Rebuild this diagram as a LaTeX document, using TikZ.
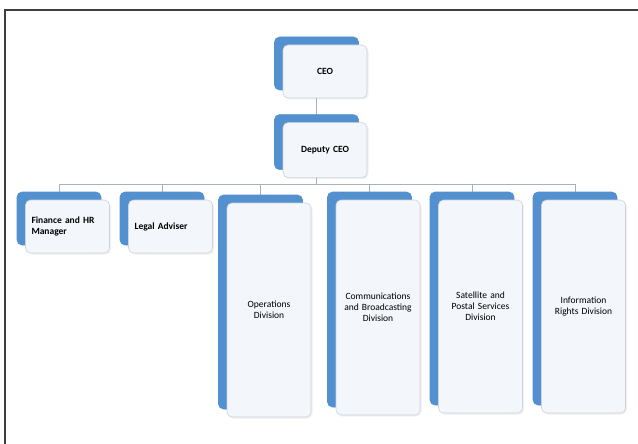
\documentclass[tikz,border=0pt]{standalone}
\usepackage{fontspec}
\setmainfont{Carlito}
\usetikzlibrary{positioning,shadows,backgrounds}
\definecolor{Frame}{HTML}{3F3F3F}
\definecolor{Tab}{HTML}{5290D0}
\definecolor{Card}{HTML}{F3F6FB}
\definecolor{Edge}{HTML}{CDD3DB}
\definecolor{Wire}{HTML}{A9B1BB}

\begin{document}
\begin{tikzpicture}[x=1pt, y=-1pt, node distance=24pt,
  every node/.style={font=\fontsize{9.5}{11}\selectfont},
  card/.style={rectangle, rounded corners=5pt, fill=Card, draw=Edge, line width=0.6pt,
    minimum width=84pt, minimum height=53pt, text width=72pt, align=center,
    copy shadow={shadow xshift=-8.5pt, shadow yshift=8pt, fill=Tab, draw=Tab},
    drop shadow={shadow xshift=1.5pt, shadow yshift=-1.5pt, opacity=0.12}},
  head/.style={card, font=\fontsize{9.5}{11}\selectfont\bfseries},
  tall/.style={card, minimum height=213pt},
  link/.style={draw=Wire, line width=0.8pt}]
  \useasboundingbox (0,0) rectangle (638,444);
  \draw[Frame, line width=1.4pt] (638,10) -- (5,10) -- (5,444);

  \node[head] (ceo) at (325,71.5) {CEO};
  \node[head, below=of ceo, minimum height=55pt] (dep) {Deputy CEO};

  \node[head, align=left] (fin) at (67.5,226.5) {Finance and HR\\Manager};
  \node[head, align=left] (legal) at (170.5,226.5) {Legal Adviser};
  \node[tall, minimum height=214pt] (ops) at (269,310) {Operations\\Division};
  \node[tall, minimum height=215pt] (comm) at (378,307.5) {Communications\\and Broadcasting\\Division};
  \node[tall] (sat) at (480.5,306.5) {Satellite and\\Postal Services\\Division};
  \node[tall] (info) at (583.5,306.5) {Information\\Rights Division};

  % connectors sit behind the tabs
  \begin{scope}[on background layer]
    \draw[link] ([xshift=-8.5pt]ceo.south) -- ([xshift=-8.5pt]dep.north);
    \foreach \unit in {fin,legal,ops,comm,sat,info}
      \draw[link] ([xshift=-8.5pt]dep.south) -- ++(0,6) -| ([xshift=-8.5pt]\unit.north);
  \end{scope}
\end{tikzpicture}
\end{document}
